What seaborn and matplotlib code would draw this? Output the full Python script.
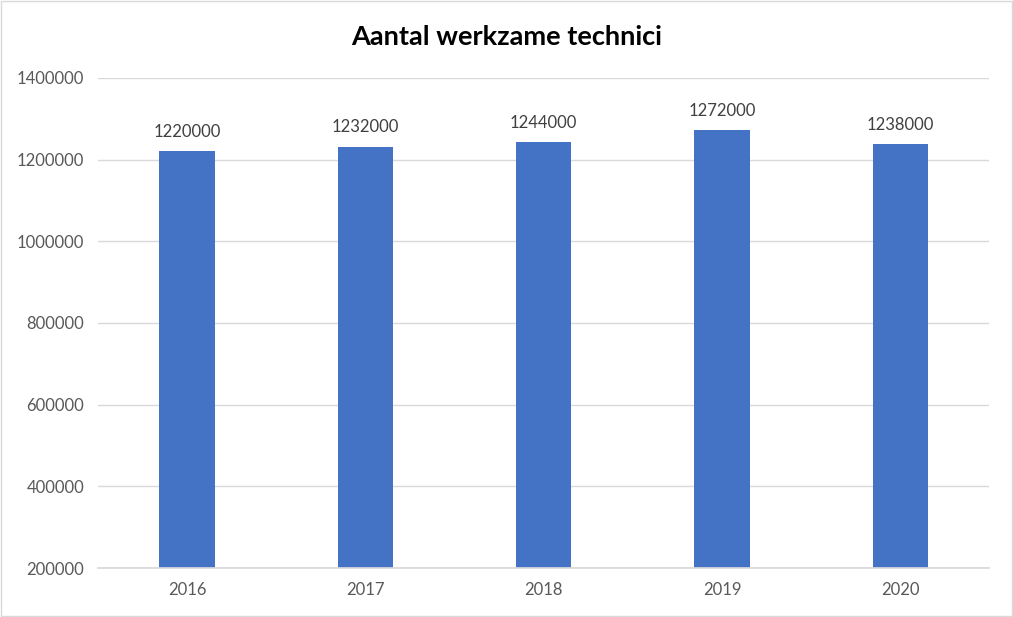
import matplotlib
matplotlib.use("Agg")
import matplotlib.pyplot as plt
import seaborn as sns
import pandas as pd

years = ["2016", "2017", "2018", "2019", "2020"]
counts = [1220000, 1232000, 1244000, 1272000, 1238000]
title = "Aantal werkzame technici"

df = pd.DataFrame({"jaar": years, "aantal": counts})

sns.set_theme(style="white")
plt.rcParams["font.family"] = ["Lato", "DejaVu Sans"]

fig = plt.figure(figsize=(10.13, 6.17), dpi=100)
ax = fig.add_axes([0.0967, 0.0794, 0.880, 0.7942])

sns.barplot(data=df, x="jaar", y="aantal", color="#4472C4", width=0.31,
            saturation=1, linewidth=0, ax=ax, zorder=3)

ax.set_ylim(200000, 1400000)
ax.set_yticks(range(200000, 1400001, 200000))
ax.set_yticklabels([str(v) for v in range(200000, 1400001, 200000)])
ax.yaxis.grid(True, color="#D9D9D9", linewidth=1, zorder=0)
ax.set_axisbelow(True)
for s in ["top", "right", "left"]:
    ax.spines[s].set_visible(False)
ax.spines["bottom"].set_color("#D9D9D9")
ax.spines["bottom"].set_zorder(4)
ax.tick_params(axis="both", length=0, labelsize=12, colors="#595959", pad=10)
ax.set_xlabel("")
ax.set_ylabel("")

for i, v in enumerate(counts):
    ax.annotate(str(v), (i, v), xytext=(0, 8), textcoords="offset points",
                ha="center", va="bottom", fontsize=12, color="#404040")

fig.text(0.5, 0.94, title, ha="center", va="center", fontsize=19.5,
         fontweight="bold", color="black")

fig.patches.append(plt.Rectangle((0.001, 0.001), 0.998, 0.997, transform=fig.transFigure,
                                 fill=False, edgecolor="#D9D9D9", linewidth=1))

fig.savefig("out.png", dpi=100)
